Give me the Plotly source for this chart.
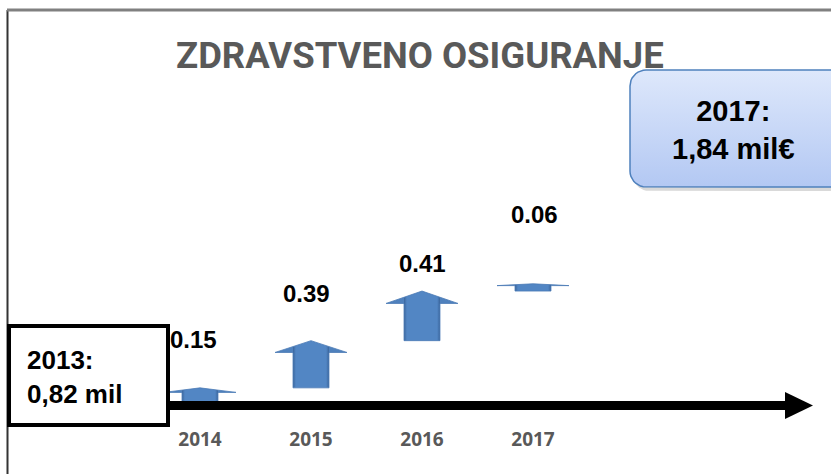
import numpy as np
import plotly.graph_objects as go

# data
years = ["2014", "2015", "2016", "2017"]
increments = [0.15, 0.39, 0.41, 0.06]
start_value = 0.82
title_text = "ZDRAVSTVENO OSIGURANJE"
start_label = "2013:<br>0,82 mil"
end_label = "2017:<br>1,84 mil€"

W, H = 831, 474
BOLD = "Liberation Sans, Arial, sans-serif"
TITLE_FONT = "Roboto, Liberation Sans, Arial, sans-serif"


def px(x, y):
    # pixel -> paper coordinates
    return x / W, 1 - y / H


fig = go.Figure()

# waterfall arrows
shaft_w = 0.162
head_w = 0.324
base = start_value
for i, (year, v) in enumerate(zip(years, increments)):
    top = base + v
    neck = top - 0.25 * v
    xs = [i - shaft_w, i + shaft_w, i + shaft_w, i + head_w, i, i - head_w, i - shaft_w, i - shaft_w]
    ys = [base, base, neck, neck, top, neck, neck, base]
    fig.add_trace(go.Scatter(
        x=xs, y=ys, mode="lines", fill="toself",
        line=dict(color="#4A7AB5", width=0.8),
        fillcolor="#4F81BD",
        fillgradient=dict(
            type="horizontal",
            colorscale=[[0, "#4F81BD"], [0.245, "#4F81BD"], [0.25, "#3A659C"],
                        [0.29, "#5286C4"], [0.71, "#5286C4"], [0.75, "#3A659C"],
                        [0.755, "#4F81BD"], [1, "#4F81BD"]],
        ),
        hoverinfo="skip", showlegend=False,
    ))
    base = top

# value labels above arrows
label_shift = [48, 47, 28, 69]
label_dx = [-7, -5, 0, 1]
base = start_value
for i, v in enumerate(increments):
    base += v
    fig.add_annotation(
        x=i, y=base, text=f"<b>{v:.2f}</b>", showarrow=False,
        xshift=label_dx[i], yshift=label_shift[i],
        font=dict(family=BOLD, size=24, color="black"),
    )


# 2017 box (pixel overlay axes so it can take a gradient)
def rounded_pts(l, t, r, b, rad, n=10):
    xs, ys = [], []
    corners = [(r - rad, t + rad, -90, 0), (r - rad, b - rad, 0, 90),
               (l + rad, b - rad, 90, 180), (l + rad, t + rad, 180, 270)]
    for cx, cy, a0, a1 in corners:
        ang = np.radians(np.linspace(a0, a1, n))
        xs += list(cx + rad * np.cos(ang))
        ys += list(cy + rad * np.sin(ang))
    return xs + xs[:1], ys + ys[:1]


sx, sy = rounded_pts(633, 74, 870, 191, 16)
fig.add_trace(go.Scatter(x=sx, y=sy, xaxis="x2", yaxis="y2", mode="lines", fill="toself",
                         fillcolor="rgba(0,0,0,0.15)", line=dict(width=0),
                         hoverinfo="skip", showlegend=False))
bx, by = rounded_pts(630, 70, 866, 187, 16)
fig.add_trace(go.Scatter(x=bx, y=by, xaxis="x2", yaxis="y2", mode="lines", fill="toself",
                         fillcolor="#C9D9F6", line=dict(color="#4F81BD", width=1.5),
                         fillgradient=dict(type="vertical", start=70, stop=187,
                                           colorscale=[[0, "#DEE8FB"], [1, "#B3C8F3"]]),
                         hoverinfo="skip", showlegend=False))

shapes = []

# frame lines
x0, y0 = px(7.5, 10)
x1, y1 = px(7.5, 474)
shapes.append(dict(type="line", xref="paper", yref="paper", x0=x0, y0=y0, x1=x1, y1=y1,
                   line=dict(color="#333333", width=2)))
x0, y0 = px(7, 10)
x1, y1 = px(831, 10)
shapes.append(dict(type="line", xref="paper", yref="paper", x0=x0, y0=y0, x1=x1, y1=y1,
                   line=dict(color="#808080", width=3)))

# baseline arrow
x0, y0 = px(160, 405.5)
x1, y1 = px(787, 405.5)
shapes.append(dict(type="line", xref="paper", yref="paper", x0=x0, y0=y0, x1=x1, y1=y1,
                   line=dict(color="black", width=9)))
a = px(785, 392)
b = px(813, 405.5)
c = px(785, 419)
shapes.append(dict(type="path", xref="paper", yref="paper",
                   path=f"M {a[0]} {a[1]} L {b[0]} {b[1]} L {c[0]} {c[1]} Z",
                   fillcolor="black", line=dict(width=0)))

# 2013 box
x0, y0 = px(9, 326)
x1, y1 = px(168, 425)
shapes.append(dict(type="rect", xref="paper", yref="paper", x0=x0, y0=y1, x1=x1, y1=y0,
                   fillcolor="white", line=dict(color="black", width=4)))

fig.update_layout(shapes=shapes)

tx, ty = px(25, 377)
fig.add_annotation(x=tx, y=ty, xref="paper", yref="paper", text=f"<b>{start_label}</b>",
                   showarrow=False, xanchor="left", yanchor="middle", align="left",
                   font=dict(family=BOLD, size=26, color="black"))
tx, ty = px(733, 130)
fig.add_annotation(x=tx, y=ty, xref="paper", yref="paper", text=f"<b>{end_label}</b>",
                   showarrow=False, xanchor="center", yanchor="middle", align="center",
                   font=dict(family=BOLD, size=29, color="black"))
tx, ty = px(420, 55)
fig.add_annotation(x=tx, y=ty, xref="paper", yref="paper", text=f"<b>{title_text}</b>",
                   showarrow=False, xanchor="center", yanchor="middle",
                   font=dict(family=TITLE_FONT, size=36.5, color="#595959"))

fig.update_layout(
    width=W, height=H,
    margin=dict(l=0, r=0, t=0, b=0),
    plot_bgcolor="rgba(0,0,0,0)", paper_bgcolor="white",
    xaxis=dict(range=[-200 / 111, 631 / 111], tickvals=list(range(len(years))),
               ticktext=[f"<b>{y}</b>" for y in years],
               showgrid=False, zeroline=False, showline=False, ticks="",
               tickfont=dict(family="Open Sans, Lato, sans-serif", size=19, color="#595959"),
               ticklabelstandoff=20),
    yaxis=dict(domain=[68 / H, 1], range=[start_value, start_value + 406 / 121],
               visible=False, showgrid=False, zeroline=False),
    xaxis2=dict(domain=[0, 1], range=[0, W], visible=False, anchor="y2"),
    yaxis2=dict(domain=[0, 1], range=[H, 0], visible=False, anchor="x2"),
)

fig.write_html("out.html", config={"displayModeBar": False},
               post_script="document.body.style.margin='0';")
